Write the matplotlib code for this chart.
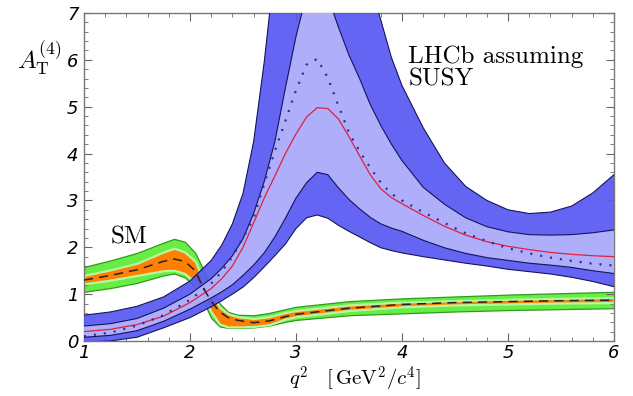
import numpy as np
import matplotlib.pyplot as plt
from matplotlib.ticker import MultipleLocator

plt.rcParams['mathtext.fontset'] = 'cm'

# ---------------- SM prediction ----------------
sm_x = [1.0, 1.25, 1.5, 1.75, 1.85, 1.95, 2.05, 2.12, 2.2, 2.28, 2.36, 2.45, 2.6, 2.75, 2.9, 3.0, 3.5, 4.0, 4.5, 5.0, 5.5, 6.0]
sm_c = [1.30, 1.40, 1.52, 1.70, 1.75, 1.70, 1.50, 1.15, 0.85, 0.62, 0.50, 0.44, 0.39, 0.43, 0.52, 0.57, 0.70, 0.78, 0.82, 0.84, 0.86, 0.87]
sm_o_hi = [1.40, 1.52, 1.66, 1.90, 1.98, 1.90, 1.70, 1.32, 1.02, 0.72, 0.58, 0.52, 0.48, 0.52, 0.61, 0.65, 0.77, 0.83, 0.86, 0.89, 0.91, 0.93]
sm_o_lo = [1.22, 1.30, 1.40, 1.50, 1.51, 1.44, 1.25, 0.94, 0.62, 0.36, 0.30, 0.30, 0.31, 0.35, 0.47, 0.52, 0.65, 0.73, 0.77, 0.79, 0.81, 0.82]
sm_g_hi = [1.58, 1.72, 1.88, 2.10, 2.18, 2.12, 1.88, 1.55, 1.12, 0.80, 0.62, 0.56, 0.55, 0.60, 0.68, 0.73, 0.85, 0.91, 0.95, 0.99, 1.02, 1.05]
sm_g_lo = [1.05, 1.13, 1.24, 1.40, 1.44, 1.36, 1.15, 0.88, 0.49, 0.31, 0.28, 0.28, 0.29, 0.33, 0.41, 0.45, 0.55, 0.59, 0.63, 0.66, 0.68, 0.70]

# ---------------- LHCb assuming SUSY ----------------
b_x = [1.0, 1.25, 1.5, 1.75, 2.0, 2.2, 2.3, 2.4, 2.5, 2.6, 2.7, 2.8, 2.9, 3.0, 3.1, 3.2, 3.3, 3.4, 3.5, 3.6,
       3.7, 3.8, 3.9, 4.0, 4.2, 4.4, 4.6, 4.8, 5.0, 5.2, 5.4, 5.6, 5.8, 6.0]
b_out_hi = [0.55, 0.62, 0.74, 0.94, 1.28, 1.72, 2.05, 2.50, 3.15, 4.25, 5.95, 8.00, 9.50, 10.5, 11.0, 11.0, 10.5, 10.0, 9.2, 8.4,
            7.6, 6.85, 6.05, 5.45, 4.55, 3.80, 3.30, 3.00, 2.80, 2.72, 2.75, 2.88, 3.16, 3.55]
b_in_hi = [0.32, 0.37, 0.48, 0.70, 1.00, 1.33, 1.55, 1.82, 2.18, 2.72, 3.40, 4.25, 5.40, 6.50, 7.40, 7.60, 7.35, 6.70, 6.10, 5.60,
           5.05, 4.60, 4.20, 3.85, 3.28, 2.92, 2.63, 2.44, 2.33, 2.27, 2.26, 2.27, 2.31, 2.37]
b_red = [0.20, 0.25, 0.35, 0.53, 0.82, 1.12, 1.33, 1.60, 2.00, 2.52, 3.05, 3.52, 4.00, 4.42, 4.78, 4.98, 4.96, 4.74, 4.36, 3.95,
         3.55, 3.25, 3.06, 2.93, 2.68, 2.45, 2.26, 2.12, 2.02, 1.95, 1.89, 1.85, 1.82, 1.80]
b_dot = [0.10, 0.18, 0.33, 0.55, 0.88, 1.23, 1.48, 1.80, 2.20, 2.62, 3.35, 4.05, 4.70, 5.35, 5.90, 6.02, 5.62, 5.02, 4.45, 4.05,
         3.70, 3.38, 3.14, 3.00, 2.75, 2.52, 2.30, 2.13, 1.98, 1.87, 1.78, 1.71, 1.65, 1.61]
b_in_lo = [0.08, 0.12, 0.22, 0.42, 0.68, 0.92, 1.05, 1.20, 1.40, 1.62, 1.88, 2.22, 2.62, 3.05, 3.38, 3.60, 3.55, 3.27, 3.02, 2.82,
           2.64, 2.50, 2.41, 2.34, 2.15, 1.99, 1.87, 1.78, 1.72, 1.66, 1.62, 1.57, 1.50, 1.44]
b_out_lo = [-0.02, 0.00, 0.08, 0.28, 0.50, 0.73, 0.86, 1.00, 1.15, 1.35, 1.58, 1.82, 2.07, 2.40, 2.63, 2.69, 2.62, 2.47, 2.34, 2.22,
            2.10, 1.99, 1.93, 1.88, 1.80, 1.73, 1.66, 1.60, 1.53, 1.48, 1.43, 1.36, 1.27, 1.16]

dark_blue = '#5858f4'
light_blue = '#b3b3fc'
navy = '#14145a'

fig = plt.figure(figsize=(6.33, 3.96), dpi=100)
ax = fig.add_axes([0.1327, 0.1389, 0.8373, 0.8283])

# SM bands
ax.fill_between(sm_x, sm_g_lo, sm_g_hi, facecolor='#66ee44', edgecolor='#2f9a20', linewidth=0.9, zorder=1)
ax.fill_between(sm_x, sm_o_lo, sm_o_hi, facecolor='#ff7f00', edgecolor='#b8f7a0', linewidth=1.6, zorder=2)

# SUSY bands
ax.fill_between(b_x, b_out_lo, b_out_hi, facecolor=dark_blue, alpha=0.92, linewidth=0, zorder=3)
ax.fill_between(b_x, b_in_lo, b_in_hi, facecolor=light_blue, alpha=0.95, linewidth=0, zorder=4)
for yy in (b_out_lo, b_out_hi, b_in_lo, b_in_hi):
    ax.plot(b_x, yy, color=navy, lw=0.8, zorder=5)
ax.plot(b_x, b_red, color='#e0203c', lw=0.9, zorder=6)
ax.plot(b_x, b_dot, color='#2a2a90', lw=1.6, ls=(0, (0.9, 3.6)), zorder=6)

# SM central
ax.plot(sm_x, sm_c, color='#222222', lw=1.1, ls=(0, (6, 4)), zorder=7)

ax.text(1.25, 2.22, 'SM', family='cmr10', fontsize=18, va='center', ha='left')
ax.text(4.06, 6.3, 'LHCb assuming\nSUSY', family='cmr10', fontsize=18, va='top', ha='left',
        linespacing=1.0)

ax.set_xlim(1, 6)
ax.set_ylim(0, 7)
ax.xaxis.set_major_locator(MultipleLocator(1))
ax.xaxis.set_minor_locator(MultipleLocator(0.2))
ax.yaxis.set_major_locator(MultipleLocator(1))
ax.yaxis.set_minor_locator(MultipleLocator(0.2))
ax.tick_params(which='both', direction='in', top=True, right=True, color='#666666')
ax.tick_params(which='major', length=6, width=0.8, labelsize=13, pad=4)
ax.tick_params(axis='x', which='major', pad=2)
ax.tick_params(which='minor', length=3, width=0.6)
for lab in ax.get_xticklabels() + ax.get_yticklabels():
    lab.set_fontstyle('italic')
for sp in ax.spines.values():
    sp.set_color('#777777')
    sp.set_linewidth(1.0)

ax.text(-0.085, 0.86, r'$A_{\mathrm{T}}^{(4)}$', transform=ax.transAxes, fontsize=18, ha='center', va='center')
fig.text(0.56, 0.004, r'$q^2\quad[\,\mathrm{GeV}^2/c^4]$', fontsize=15, ha='center', va='bottom')

fig.savefig('out.png', dpi=100)
